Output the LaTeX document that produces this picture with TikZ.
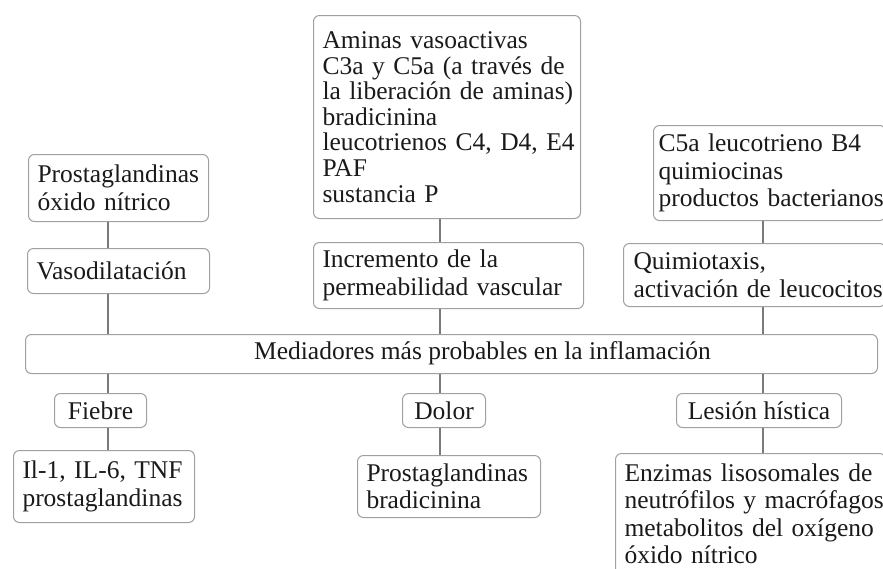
\documentclass[tikz,border=0pt]{standalone}
\usepackage{fontspec}
\setmainfont{Liberation Serif}
\definecolor{boxc}{HTML}{A0A0A0}
\definecolor{linec}{HTML}{7A7A7A}
\definecolor{txt}{HTML}{1A1A1A}
\newcommand\lnx[1]{\mbox{#1}}
\begin{document}
\begin{tikzpicture}[x=1pt,y=-1pt,
  every node/.style={font=\fontsize{25.5}{27.5}\selectfont, text=txt},
  box/.style={draw=boxc, line width=1pt, rounded corners=6pt, anchor=north west,
    inner xsep=9pt, inner ysep=2pt, align=left},
  cbox/.style={draw=boxc, line width=1pt, rounded corners=6pt, anchor=north west,
    inner sep=0pt, align=center},
  link/.style={draw=linec, line width=1.3pt}]
\useasboundingbox (0,0) rectangle (883,568);
\clip (0,0) rectangle (883,568);
\fill[white] (0,0) rectangle (883,568);
% top row
\node[box, minimum width=180pt, minimum height=67pt, text width=162pt] (p1) at (28,154)
  {\lnx{Prostaglandinas}\\\lnx{óxido nítrico}};
\node[box, minimum width=182pt, minimum height=45pt, text width=164pt] (v1) at (27,248)
  {\lnx{Vasodilatación}};
\node[box, minimum width=267pt, minimum height=203pt, text width=249pt,
  font=\fontsize{25.5}{25.6}\selectfont] (a1) at (313,15)
  {\lnx{Aminas vasoactivas}\\\lnx{C3a y C5a (a través de}\\\lnx{la liberación de aminas)}\\\lnx{bradicinina}\\\lnx{leucotrienos C4, D4, E4}\\\lnx{PAF}\\\lnx{sustancia P}};
\node[box, minimum width=270pt, minimum height=66pt, text width=252pt] (i1) at (313,242)
  {\lnx{Incremento de la}\\\lnx{permeabilidad vascular}};
\node[box, inner xsep=5pt, minimum width=232pt, minimum height=95pt, text width=222pt] (c1) at (653,125)
  {\lnx{C5a leucotrieno B4}\\\lnx{quimiocinas}\\\lnx{productos bacterianos}};
\node[box, inner xsep=10pt, minimum width=262pt, minimum height=63pt, text width=242pt] (q1) at (623,243)
  {\lnx{Quimiotaxis,}\\\lnx{activación de leucocitos}};
% central bar
\node[cbox, minimum width=852pt, minimum height=39pt] (med) at (25,334) {};
\node[inner sep=0pt, anchor=center] (medt) at (482.5,353.5) {Mediadores más probables en la inflamación};
% bottom row
\node[cbox, minimum width=92pt, minimum height=34pt] (f1) at (54,393) {Fiebre};
\node[box, minimum width=181pt, minimum height=72pt, text width=163pt] (il) at (13,450)
  {\lnx{Il-1, IL-6, TNF}\\\lnx{prostaglandinas}};
\node[cbox, minimum width=83pt, minimum height=34pt] (d1) at (402,393) {Dolor};
\node[box, minimum width=183pt, minimum height=62pt, text width=165pt] (pb) at (357,455)
  {\lnx{Prostaglandinas}\\\lnx{bradicinina}};
\node[cbox, minimum width=165pt, minimum height=34pt] (l1) at (676,393) {Lesión hística};
\node[box, inner xsep=9pt, minimum width=270pt, minimum height=121pt, text width=252pt] (en) at (615,453)
  {\lnx{Enzimas lisosomales de}\\\lnx{neutrófilos y macrófagos}\\\lnx{metabolitos del oxígeno}\\\lnx{óxido nítrico}};
% connectors
\coordinate (xa) at (108,0);
\coordinate (xb) at (440,0);
\coordinate (xc) at (763,0);
\draw[link] (p1.south -| xa) -- (v1.north -| xa);
\draw[link] (v1.south -| xa) -- (med.north -| xa);
\draw[link] (a1.south -| xb) -- (i1.north -| xb);
\draw[link] (i1.south -| xb) -- (med.north -| xb);
\draw[link] (c1.south -| xc) -- (q1.north -| xc);
\draw[link] (q1.south -| xc) -- (med.north -| xc);
\draw[link] (med.south -| xa) -- (f1.north -| xa);
\draw[link] (f1.south -| xa) -- (il.north -| xa);
\draw[link] (med.south -| xb) -- (d1.north -| xb);
\draw[link] (d1.south -| xb) -- (pb.north -| xb);
\draw[link] (med.south -| xc) -- (l1.north -| xc);
\draw[link] (l1.south -| xc) -- (en.north -| xc);
\end{tikzpicture}
\end{document}
